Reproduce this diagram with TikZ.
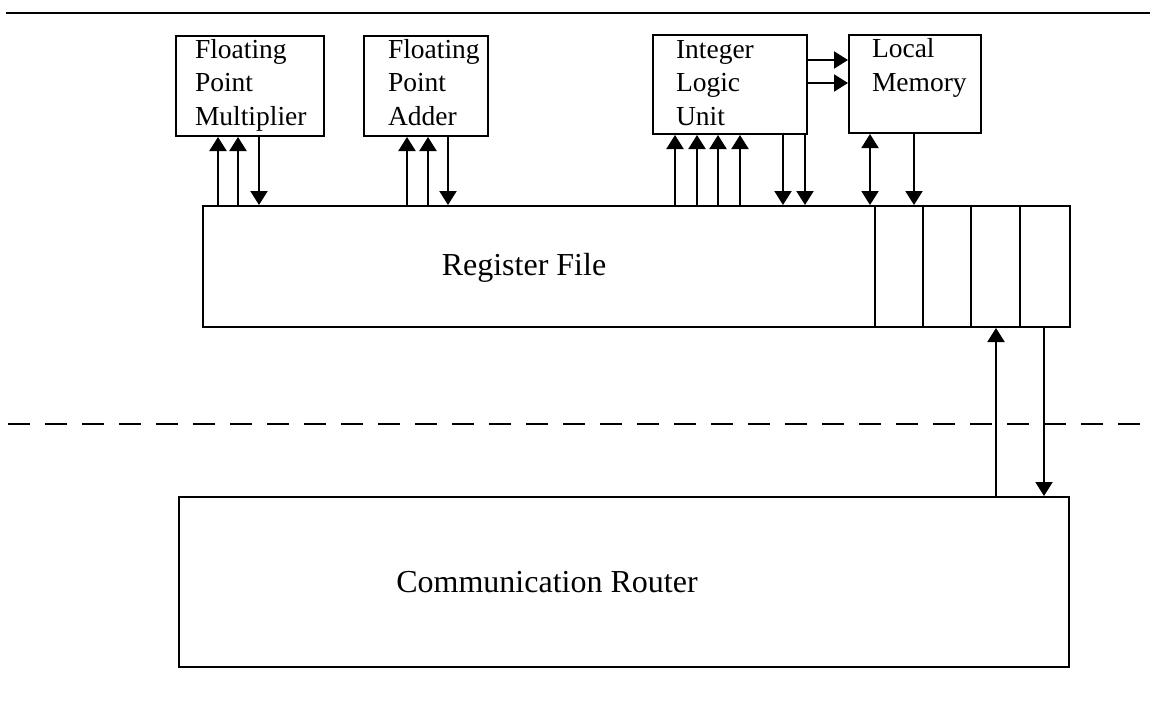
\documentclass[tikz,border=0pt]{standalone}
\usepackage{fontspec}
\setmainfont{Liberation Serif}
\usetikzlibrary{arrows.meta,calc}
\begin{document}
\begin{tikzpicture}[x=1pt,y=-1pt,
  line width=2pt,
  >={Triangle[width=17pt,length=14pt]},
  unitbox/.style={draw, rectangle, inner sep=0pt, anchor=north west},
  % base anchor of a multi-line label sits on its last line
  lbl/.style={anchor=base west, inner sep=0pt, align=left,
    font=\fontsize{27.5}{33.5}\selectfont},
  title/.style={anchor=base, inner sep=0pt, font=\fontsize{32}{36}\selectfont},
  sep/.style={line width=2pt}]
\useasboundingbox (0,0) rectangle (1154,709);

% separators
\coordinate (topL) at (6,13);
\coordinate (topR) at (1150,13);
\draw[sep] (topL) -- (topR);
\coordinate (dashL) at (8,424);
\coordinate (dashR) at (1154,424);
\draw[sep, dash pattern=on 22pt off 15pt] (dashL) -- (dashR);

% functional units
\node[unitbox, minimum width=148, minimum height=100] (fpm) at (175,35) {};
\node[unitbox, minimum width=124, minimum height=100] (fpa) at (363,35) {};
\node[unitbox, minimum width=154, minimum height=99] (ilu) at (652,34) {};
\node[unitbox, minimum width=132, minimum height=98] (lm) at (848,34) {};

\node[lbl] (fpmtxt) at ($(fpm.north west)+(19,90)$) {Floating\\Point\\Multiplier};
\node[lbl] (fpatxt) at ($(fpa.north west)+(24,90)$) {Floating\\Point\\Adder};
\node[lbl] (ilutxt) at ($(ilu.north west)+(23,91)$) {Integer\\Logic\\Unit};
\node[lbl] (lmtxt) at ($(lm.north west)+(23,57.5)$) {Local\\Memory};

% register file with its four slots
\node[unitbox, minimum width=867, minimum height=121] (rf) at (202,205) {};
\node[title] (rftxt) at (524,275) {Register File};
\foreach \x in {875,923,971,1020}
  \draw (\x,0 |- rf.north) -- (\x,0 |- rf.south);

% communication router
\node[unitbox, minimum width=890, minimum height=170] (cr) at (178,496) {};
\node[title] (crtxt) at (547,592) {Communication Router};

% multiplier ports
\draw[->] (218,0 |- rf.north) -- (218,0 |- fpm.south);
\draw[->] (238,0 |- rf.north) -- (238,0 |- fpm.south);
\draw[->] (259,0 |- fpm.south) -- (259,0 |- rf.north);

% adder ports
\draw[->] (407,0 |- rf.north) -- (407,0 |- fpa.south);
\draw[->] (428,0 |- rf.north) -- (428,0 |- fpa.south);
\draw[->] (448,0 |- fpa.south) -- (448,0 |- rf.north);

% integer unit ports
\foreach \x in {675,697,718,740}
  \draw[->] (\x,0 |- rf.north) -- (\x,0 |- ilu.south);
\draw[->] (783,0 |- ilu.south) -- (783,0 |- rf.north);
\draw[->] (805,0 |- ilu.south) -- (805,0 |- rf.north);

% integer unit to local memory
\draw[->] (ilu.east |- 0,60) -- (lm.west |- 0,60);
\draw[->] (ilu.east |- 0,83) -- (lm.west |- 0,83);

% local memory ports
\draw[<->] (870,0 |- lm.south) -- (870,0 |- rf.north);
\draw[->] (914,0 |- lm.south) -- (914,0 |- rf.north);

% router links
\draw[->] (996,0 |- cr.north) -- (996,0 |- rf.south);
\draw[->] (1044,0 |- rf.south) -- (1044,0 |- cr.north);
\end{tikzpicture}
\end{document}
